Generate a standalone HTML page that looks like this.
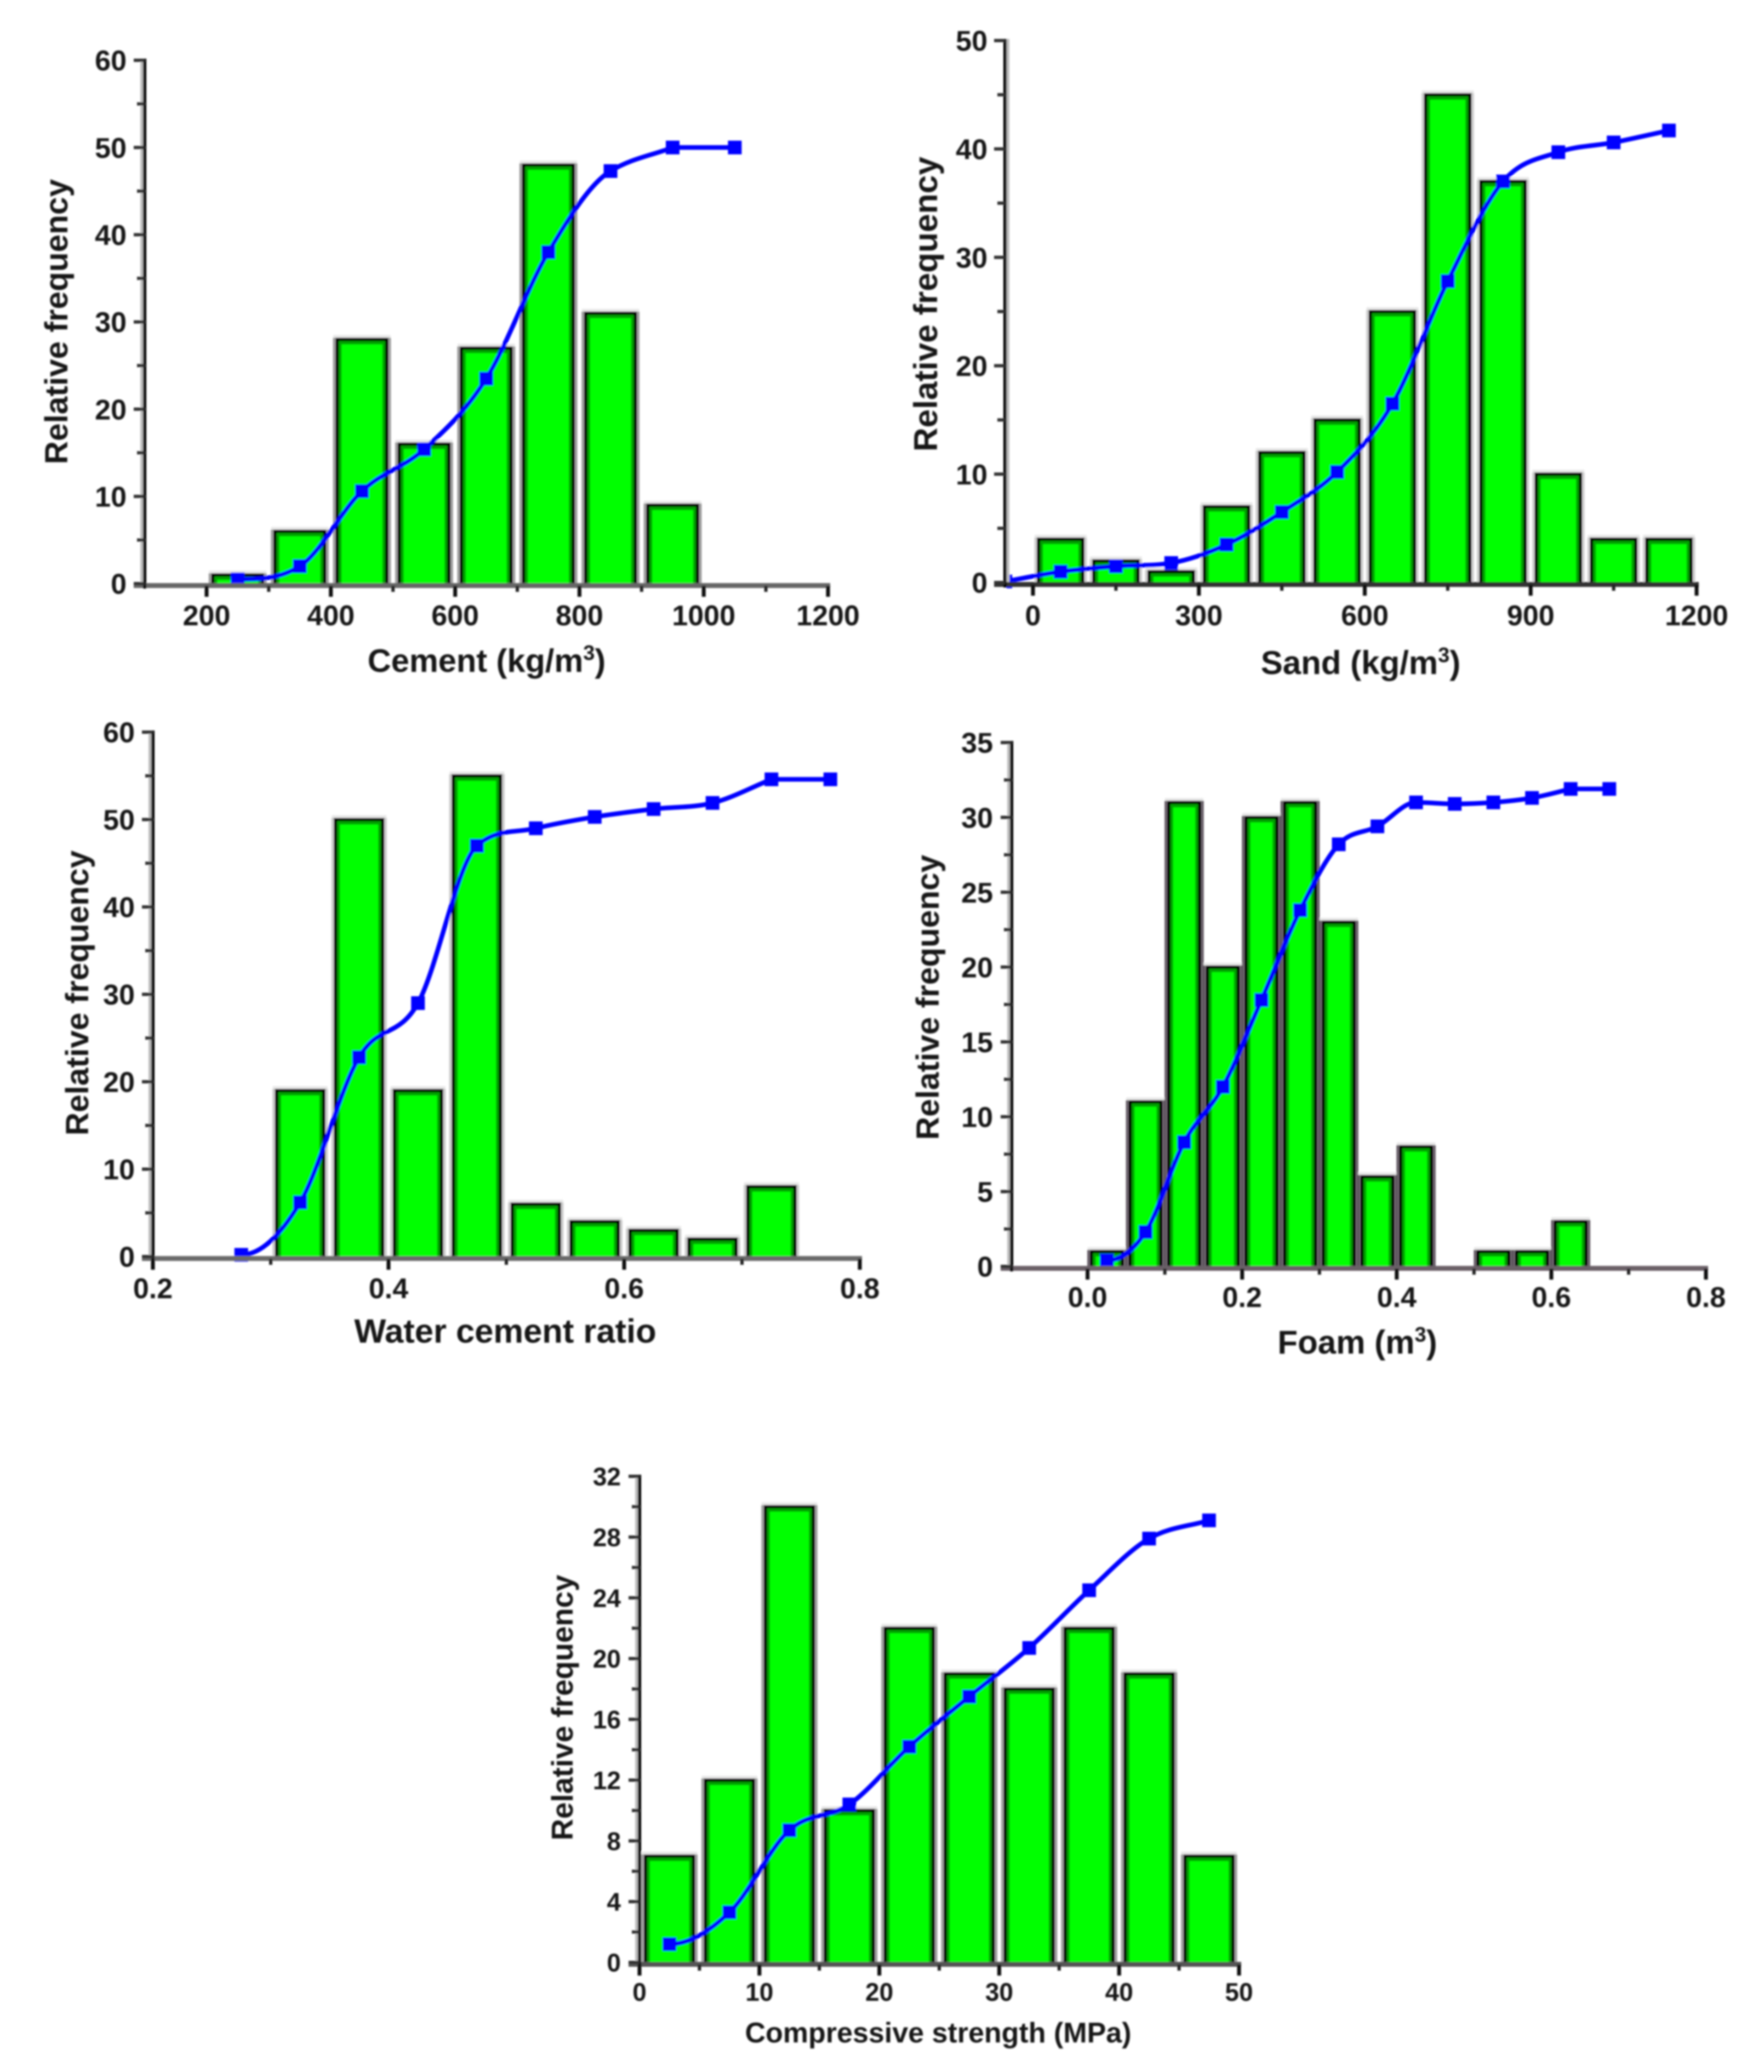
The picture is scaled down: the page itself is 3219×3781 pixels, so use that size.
<!DOCTYPE html>
<html lang="en">
<head>
<meta charset="utf-8">
<title>Relative frequency histograms</title>
<style>
html,body{margin:0;padding:0;background:#fff;}
svg{display:block;}
text{font-family:"Liberation Sans",sans-serif;font-weight:bold;fill:#141414;}
</style>
</head>
<body>
<svg xmlns="http://www.w3.org/2000/svg" width="3219" height="3781" viewBox="0 0 3219 3781">
<defs>
<filter id="soft" filterUnits="userSpaceOnUse" x="0" y="0" width="3219" height="3781"><feGaussianBlur stdDeviation="1.6"/></filter>
</defs>
<rect width="3219" height="3781" fill="#fff"/>
<g filter="url(#soft)">

<g id="chart-cement">
<text x="123" y="587" text-anchor="middle" font-size="58.5" transform="rotate(-90 123 587)">Relative frequency</text>
<text x="888" y="1226" text-anchor="middle" font-size="59.5">Cement (kg/m<tspan font-size="38" dy="-22">3</tspan><tspan dy="22">)</tspan></text>
</g>

<g id="chart-sand">
<text x="1710" y="555" text-anchor="middle" font-size="60.5" transform="rotate(-90 1710 555)">Relative frequency</text>
<text x="2483" y="1230" text-anchor="middle" font-size="60">Sand (kg/m<tspan font-size="38" dy="-22">3</tspan><tspan dy="22">)</tspan></text>
</g>

<g id="chart-water">
<text x="161" y="1812" text-anchor="middle" font-size="58.5" transform="rotate(-90 161 1812)">Relative frequency</text>
<text x="922" y="2450" text-anchor="middle" font-size="61.5">Water cement ratio</text>
</g>

<g id="chart-foam">
<text x="1713" y="1820" text-anchor="middle" font-size="58.5" transform="rotate(-90 1713 1820)">Relative frequency</text>
<text x="2477" y="2470" text-anchor="middle" font-size="60">Foam (m<tspan font-size="38" dy="-22">3</tspan><tspan dy="22">)</tspan></text>
</g>

<g id="chart-strength">
<text x="1045" y="3116" text-anchor="middle" font-size="54.5" transform="rotate(-90 1045 3116)">Relative frequency</text>
<text x="1712" y="3727" text-anchor="middle" font-size="52">Compressive strength (MPa)</text>
</g>

</g>
</svg>
<script>
// Cement
const cementBarBins = [250, 350, 450, 550, 650, 750, 850, 950];
const cementBarValues = [1, 6, 28, 16, 27, 48, 31, 9];
const cementLineBins = [250, 350, 450, 550, 650, 750, 850, 950, 1050];
const cementLineValues = [0.5, 2, 10.6, 15.4, 23.5, 38, 47.3, 50, 50];
const cementXTicks = ['200', '400', '600', '800', '1000', '1200'];
const cementYTicks = ['0', '10', '20', '30', '40', '50', '60'];

// Sand
const sandBarBins = [50, 150, 250, 350, 450, 550, 650, 750, 850, 950, 1050, 1150];
const sandBarValues = [4, 2, 1, 7, 12, 15, 25, 45, 37, 10, 4, 4];
const sandLineBins = [-50, 50, 150, 250, 350, 450, 550, 650, 750, 850, 950, 1050, 1150];
const sandLineValues = [0.1, 1, 1.5, 1.8, 3.5, 6.5, 10.2, 16.5, 27.8, 37, 39.7, 40.6, 41.7];
const sandXTicks = ['0', '300', '600', '900', '1200'];
const sandYTicks = ['0', '10', '20', '30', '40', '50'];

// Water cement ratio
const waterBarBins = [0.325, 0.375, 0.425, 0.475, 0.525, 0.575, 0.625, 0.675, 0.725];
const waterBarValues = [19, 50, 19, 55, 6, 4, 3, 2, 8];
const waterLineBins = [0.275, 0.325, 0.375, 0.425, 0.475, 0.525, 0.575, 0.625, 0.675, 0.725, 0.775];
const waterLineValues = [0.2, 6.2, 22.8, 29, 47, 49, 50.3, 51.2, 51.9, 54.6, 54.6];
const waterXTicks = ['0.2', '0.4', '0.6', '0.8'];
const waterYTicks = ['0', '10', '20', '30', '40', '50', '60'];

// Foam
const foamBarBins = [0.025, 0.075, 0.125, 0.175, 0.225, 0.275, 0.325, 0.375, 0.425, 0.525, 0.575, 0.625];
const foamBarValues = [1, 11, 31, 20, 30, 31, 23, 6, 8, 1, 1, 3];
const foamLineBins = [0.025, 0.075, 0.125, 0.175, 0.225, 0.275, 0.325, 0.375, 0.425, 0.475, 0.525, 0.575, 0.625, 0.675];
const foamLineValues = [0.4, 2.3, 8.3, 12, 17.8, 23.8, 28.2, 29.4, 31, 30.9, 31, 31.3, 31.9, 31.9];
const foamXTicks = ['0.0', '0.2', '0.4', '0.6', '0.8'];
const foamYTicks = ['0', '5', '10', '15', '20', '25', '30', '35'];

// Compressive strength
const strengthBarBins = [2.5, 7.5, 12.5, 17.5, 22.5, 27.5, 32.5, 37.5, 42.5, 47.5];
const strengthBarValues = [7, 12, 30, 10, 22, 19, 18, 22, 19, 7];
const strengthLineBins = [2.5, 7.5, 12.5, 17.5, 22.5, 27.5, 32.5, 37.5, 42.5, 47.5];
const strengthLineValues = [1.2, 3.3, 8.7, 10.4, 14.2, 17.5, 20.7, 24.5, 27.9, 29.1];
const strengthXTicks = ['0', '10', '20', '30', '40', '50'];
const strengthYTicks = ['0', '4', '8', '12', '16', '20', '24', '28', '32'];

const NS = 'http://www.w3.org/2000/svg';

function mk(parent, tag, attrs, name) {
  const el = document.createElementNS(NS, tag);
  for (const k in attrs) el.setAttribute(k, attrs[k]);
  
  
  parent.appendChild(el);
  return el;
}

// Cubic Hermite curve through the points; tangents are limited so it never overshoots,
// and a segment running into a flat stretch arrives straight, leaving a corner there.
function smoothPath(pts) {
  const n = pts.length;
  const h = [], s = [], mIn = [], mOut = [];
  for (let i = 0; i < n - 1; i++) {
    h[i] = pts[i + 1][0] - pts[i][0];
    s[i] = (pts[i + 1][1] - pts[i][1]) / h[i];
  }
  mOut[0] = Math.abs(s[1]) > 2 * Math.abs(s[0]) ? 0 : s[0];
  mIn[n - 1] = s[n - 2];
  for (let i = 1; i < n - 1; i++) {
    if (s[i] === 0) {
      mIn[i] = s[i - 1];
      mOut[i] = 0;
    } else if (s[i - 1] * s[i] <= 0) {
      mIn[i] = 0;
      mOut[i] = 0;
    } else {
      const cat = (s[i - 1] + s[i]) / 2;
      const lim = 3 * Math.min(Math.abs(s[i - 1]), Math.abs(s[i]));
      const m = Math.sign(cat) * Math.min(Math.abs(cat), lim);
      mIn[i] = m;
      mOut[i] = m;
    }
  }
  // a segment that arrives at a corner stays close to straight
  for (let i = 1; i < n - 1; i++) {
    if (s[i] === 0 && i > 1 && Math.abs(s[i - 1]) < Math.abs(s[i - 2])) {
      mOut[i - 1] = mIn[i - 1] = (mIn[i - 1] + s[i - 1]) / 2;
    }
  }
  let d = 'M' + pts[0][0] + ' ' + pts[0][1];
  for (let i = 0; i < n - 1; i++) {
    const p1 = pts[i], p2 = pts[i + 1], t = h[i] / 3;
    d += ' C' + (p1[0] + t) + ' ' + (p1[1] + mOut[i] * t) + ' ' + (p2[0] - t) + ' ' + (p2[1] - mIn[i + 1] * t) + ' ' + p2[0] + ' ' + p2[1];
  }
  return d;
}

function drawChart(id, d, g) {
  const root = document.getElementById(id);
  const x = v => g.xRef0 + (v - g.xVal0) * (g.xRef1 - g.xRef0) / (g.xVal1 - g.xVal0);
  const y = v => g.yBase + (g.yTop - g.yBase) * v / g.yMax;
  const axisR = x(g.xEnd);

  // bars
  const bars = mk(root, 'g', {}, 'histogram-bars');
  const binW = d.barBins[1] - d.barBins[0];
  d.barBins.forEach((b, i) => {
    const L = x(b - binW * 0.4), R = x(b + binW * 0.4), T = y(d.barValues[i]);
    const B = g.yBase + 2;
    mk(bars, 'rect', {x: L - 7, y: T - 8, width: R - L + 14, height: 8, fill: '#e8e8e8'}, 'bar-top-halo');
    mk(bars, 'path', {d: 'M' + (L - 5.5) + ' ' + B + ' V' + (T - 3) + ' M' + (R + 5.5) + ' ' + B + ' V' + (T - 3), stroke: g.halo, 'stroke-width': 4, fill: 'none'}, 'bar-side-halo');
    mk(bars, 'rect', {x: L, y: T, width: R - L, height: B - T, fill: '#00a000', stroke: '#000', 'stroke-width': 6}, 'bar-frame');
    mk(bars, 'rect', {x: L + 8, y: T + 9, width: R - L - 16, height: B - T - 9, fill: '#00ff00'}, 'bar');
  });

  // cumulative line
  const pts = d.lineBins.map((b, i) => [x(b), y(d.lineValues[i])]);
  mk(root, 'path', {d: smoothPath(pts), fill: 'none', stroke: '#0000ff', 'stroke-width': 8.5, 'stroke-linejoin': 'round'}, 'cumulative-line');
  const markers = mk(root, 'g', {}, 'cumulative-markers');
  pts.forEach(p => {
    const left = Math.max(p[0] - g.marker / 2, g.axisX + 3);
    const w = p[0] + g.marker / 2 - left;
    mk(markers, 'rect', {x: left, y: p[1] - g.marker / 2, width: w, height: g.marker, fill: '#0000ff'}, 'cumulative-point');
  });

  // axes sit on top of the marks
  const axes = mk(root, 'g', {}, 'axes');
  mk(axes, 'rect', {x: g.axisX + g.haloOffset, y: y(g.yMax) - 3, width: 5, height: g.yBase - y(g.yMax) + 3, fill: '#bdbdbd'}, 'y-axis-shadow');
  mk(axes, 'rect', {x: g.axisX - 20, y: g.yBase - 1, width: axisR - g.axisX + 24, height: 9, fill: g.baseColor}, 'x-axis-line');
  mk(axes, 'rect', {x: g.axisX - 3, y: y(g.yMax) - 3, width: 6, height: g.yBase - y(g.yMax) + 12, fill: '#000'}, 'y-axis-line');

  // y ticks and labels
  const yStep = parseFloat(d.yTicks[1]) - parseFloat(d.yTicks[0]);
  d.yTicks.forEach(t => {
    const v = parseFloat(t);
    mk(axes, 'rect', {x: g.axisX - 20, y: y(v) - 3, width: 20, height: 6, fill: '#333'}, 'y-major-tick');
    if (v < g.yMax) mk(axes, 'rect', {x: g.axisX - 14, y: y(v + yStep / 2) - 3, width: 14, height: 6, fill: '#333'}, 'y-minor-tick');
    const lab = mk(axes, 'text', {x: g.yLabelRight, y: y(v) + g.labelSize * 0.36, 'text-anchor': 'end', 'font-size': g.labelSize}, 'y-tick-label');
    lab.textContent = t;
  });

  // x ticks and labels
  const xStep = parseFloat(d.xTicks[1]) - parseFloat(d.xTicks[0]);
  d.xTicks.forEach(t => {
    const v = parseFloat(t);
    mk(axes, 'rect', {x: x(v) - 3.5, y: g.yBase + 4, width: 7, height: 20, fill: '#111'}, 'x-major-tick');
    const m = v - xStep / 2;
    if (m > g.xStart + 1e-9) mk(axes, 'rect', {x: x(m) - 3, y: g.yBase + 4, width: 6, height: 11, fill: '#222'}, 'x-minor-tick');
    const lab = mk(axes, 'text', {x: x(v), y: g.xLabelY, 'text-anchor': 'middle', 'font-size': g.labelSize}, 'x-tick-label');
    lab.textContent = t;
  });
}

drawChart('chart-cement',
  {barBins: cementBarBins, barValues: cementBarValues, lineBins: cementLineBins, lineValues: cementLineValues, xTicks: cementXTicks, yTicks: cementYTicks},
  {xVal0: 200, xVal1: 1200, xRef0: 377, xRef1: 1511, xStart: 100, xEnd: 1200, axisX: 264, yBase: 1065, yTop: 110, yMax: 60, yLabelRight: 231, xLabelY: 1141, labelSize: 52, marker: 25, halo: '#999', baseColor: '#666', haloOffset: -8});

drawChart('chart-sand',
  {barBins: sandBarBins, barValues: sandBarValues, lineBins: sandLineBins, lineValues: sandLineValues, xTicks: sandXTicks, yTicks: sandYTicks},
  {xVal0: 0, xVal1: 1200, xRef0: 1885, xRef1: 3096, xStart: -50, xEnd: 1200, axisX: 1834, yBase: 1063, yTop: 74, yMax: 50, yLabelRight: 1802, xLabelY: 1141, labelSize: 52, marker: 25, halo: '#ccc', baseColor: '#333', haloOffset: 3});

drawChart('chart-water',
  {barBins: waterBarBins, barValues: waterBarValues, lineBins: waterLineBins, lineValues: waterLineValues, xTicks: waterXTicks, yTicks: waterYTicks},
  {xVal0: 0.2, xVal1: 0.8, xRef0: 279, xRef1: 1569, xStart: 0.2, xEnd: 0.8, axisX: 279, yBase: 2293, yTop: 1336, yMax: 60, yLabelRight: 246, xLabelY: 2369, labelSize: 52, marker: 25, halo: '#c8c8c8', baseColor: '#6a6a6a', haloOffset: -8});

drawChart('chart-foam',
  {barBins: foamBarBins, barValues: foamBarValues, lineBins: foamLineBins, lineValues: foamLineValues, xTicks: foamXTicks, yTicks: foamYTicks},
  {xVal0: 0, xVal1: 0.8, xRef0: 1984.6, xRef1: 3113, xStart: -0.1, xEnd: 0.8, axisX: 1846, yBase: 2311, yTop: 1355, yMax: 35, yLabelRight: 1812, xLabelY: 2385, labelSize: 52, marker: 25, halo: '#5f555f', baseColor: '#6a6068', haloOffset: -8});

drawChart('chart-strength',
  {barBins: strengthBarBins, barValues: strengthBarValues, lineBins: strengthLineBins, lineValues: strengthLineValues, xTicks: strengthXTicks, yTicks: strengthYTicks},
  {xVal0: 0, xVal1: 50, xRef0: 1167, xRef1: 2261, xStart: 0, xEnd: 50, axisX: 1167, yBase: 3581, yTop: 2694, yMax: 32, yLabelRight: 1133, xLabelY: 3651, labelSize: 46, marker: 25, halo: '#999', baseColor: '#555', haloOffset: -8});
</script>
</body>
</html>
